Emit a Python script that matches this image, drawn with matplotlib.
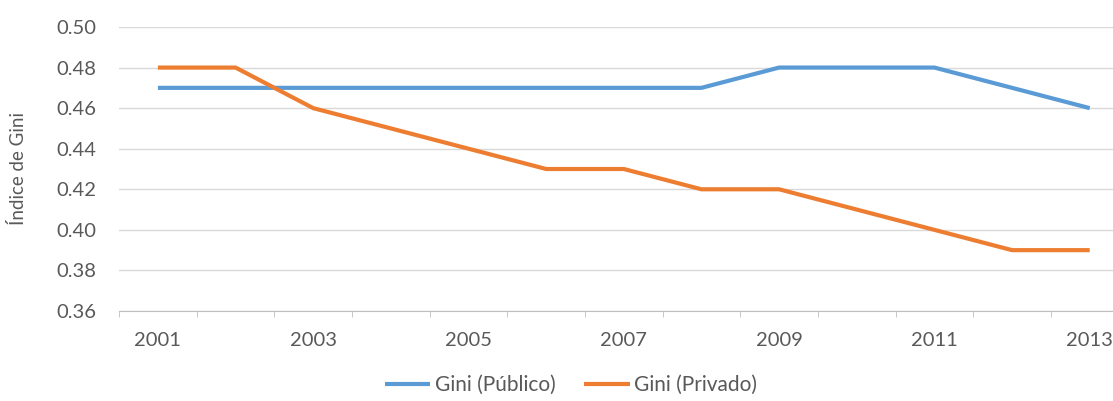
#!/usr/bin/env python3
"""Gini index, public vs private, 2001-2013."""

import numpy as np
import matplotlib
matplotlib.use("Agg")
import matplotlib.pyplot as plt

years = list(range(2001, 2014))
gini_publico = [0.47, 0.47, 0.47, 0.47, 0.47, 0.47, 0.47, 0.47, 0.48, 0.48, 0.48, 0.47, 0.46]
gini_privado = [0.48, 0.48, 0.46, 0.45, 0.44, 0.43, 0.43, 0.42, 0.42, 0.41, 0.40, 0.39, 0.39]
year_ticks = [2001, 2003, 2005, 2007, 2009, 2011, 2013]
y_ticks = [0.36, 0.38, 0.40, 0.42, 0.44, 0.46, 0.48, 0.50]

plt.rcParams['font.family'] = ['Lato', 'DejaVu Sans']
grey = '#595959'

fig = plt.figure(figsize=(11.13, 4.01), dpi=100)
ax = fig.add_axes([0.107, 0.2244, 0.893, 0.7083])

ax.plot(years, gini_publico, color='#5B9BD5', lw=3, solid_capstyle='butt',
        label='Gini (Público)')
ax.plot(years, gini_privado, color='#ED7D31', lw=3, solid_capstyle='butt',
        label='Gini (Privado)')

ax.set_xlim(2000.5, 2013.3)
ax.set_ylim(0.36, 0.50)
ax.set_yticks(y_ticks)
ax.set_yticklabels([f'{v:.2f}' for v in y_ticks])
ax.set_xticks(year_ticks)
ax.set_xticks(np.arange(2000.5, 2013.5, 1), minor=True)
ax.tick_params(axis='x', which='major', length=0, pad=15, labelsize=14.5, labelcolor=grey)
ax.tick_params(axis='x', which='minor', length=4, color='#BFBFBF')
ax.tick_params(axis='y', length=0, pad=16, labelsize=14.5, labelcolor=grey)

ax.grid(axis='y', color='#D9D9D9', lw=1)
ax.set_axisbelow(True)
for side in ['top', 'right', 'left']:
    ax.spines[side].set_visible(False)
ax.spines['bottom'].set_color('#BFBFBF')

fig.text(0.016, 0.58, 'Índice de Gini', rotation=90, ha='center', va='center',
         fontsize=13.5, color=grey)

fig.legend(loc='center', bbox_to_anchor=(0.513, 0.04), ncol=2, frameon=False,
           fontsize=15, labelcolor=grey, handlelength=2.2, handletextpad=0.2,
           columnspacing=1.4)

fig.savefig('out.png', dpi=100)
